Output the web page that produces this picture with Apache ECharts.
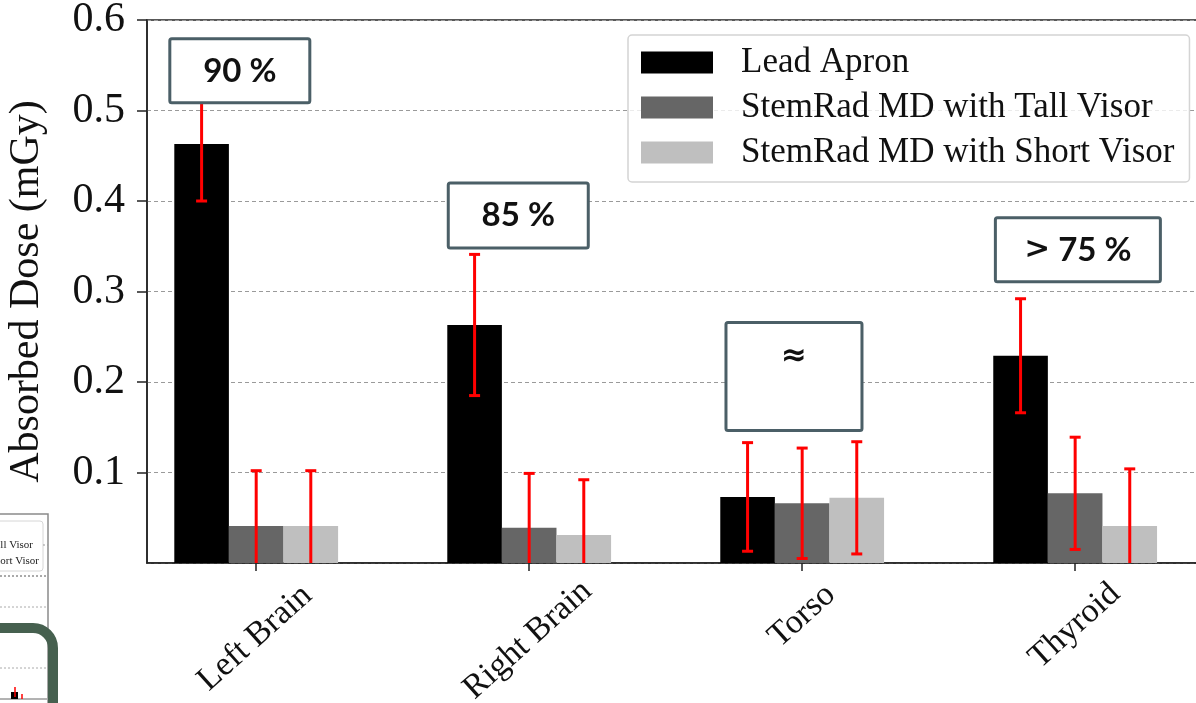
<!DOCTYPE html>
<html>
<head>
<meta charset="utf-8">
<script src="https://cdn.jsdelivr.net/npm/echarts@6/dist/echarts.min.js"></script>
<style>
  html, body { margin: 0; background: #fff; }
  #chart { width: 1196px; height: 703px; }
</style>
</head>
<body>
<div id="chart"></div>
<script>
// Absorbed dose per organ, three shielding setups, with ± error bars and note boxes.
const CATS = ['Left Brain', 'Right Brain', 'Torso', 'Thyroid']
const SERIES = ['Lead Apron', 'StemRad MD with Tall Visor', 'StemRad MD with Short Visor']
const LEAD = [0.463, 0.263, 0.073, 0.229]
const TALL = [0.041, 0.039, 0.066, 0.077]
const SHORT = [0.041, 0.031, 0.072, 0.041]
const LEAD_ERR = [0.063, 0.078, 0.060, 0.063]
const TALL_ERR = [0.061, 0.060, 0.061, 0.062]
const SHORT_ERR = [0.061, 0.061, 0.062, 0.063]
const NOTE_TEXT = ['90 %', '85 %', '{s|≈}', '{s|>} 75 %']
const NOTE_X = [-0.06, 0.96, 1.97, 3.01]
const NOTE_Y = [0.544, 0.384, 0.206, 0.346]
const Y_MIN = 0, Y_MAX = 0.6, Y_STEP = 0.1

const COLORS = ['#000000', '#666666', '#bfbfbf']
const SERIF = '"Liberation Serif", "Times New Roman", serif'
const X_MIN = -0.4, X_MAX = 3.45
const GRID = { left: 147, top: 20, right: -2, bottom: 140 }
const W = 1196
const pxPerUnit = (W - GRID.left - GRID.right) / (X_MAX - X_MIN)
const BAR_UNIT = 0.2
const barPx = BAR_UNIT * pxPerUnit
// note box sizes (px) and text offset from the box centre
const NOTE_BOX = [
  { w: 140, h: 64, ty: 1 }, { w: 140, h: 65, ty: 0 },
  { w: 136, h: 108, ty: -20 }, { w: 165, h: 64, ty: 0 }
]
// push short rotated labels down so their boxes all start at the same height
const LABEL_SHIFT = [22, 24, 0, 10]

const chart = echarts.init(document.getElementById('chart'))

const vals = [LEAD, TALL, SHORT]
const errs = [LEAD_ERR, TALL_ERR, SHORT_ERR]

function errRender(k) {
  return (params, api) => {
    const x = api.value(0), v = api.value(1), e = api.value(2)
    const top = api.coord([x, v + e])
    const bot = api.coord([x, Math.max(v - e, Y_MIN)])
    const cx = top[0] + (k - 1) * barPx
    const st = { stroke: '#ff0000', lineWidth: 3 }
    const kids = [
      { type: 'line', shape: { x1: cx, y1: top[1], x2: cx, y2: bot[1] }, style: st },
      { type: 'line', shape: { x1: cx - 5.5, y1: top[1], x2: cx + 5.5, y2: top[1] }, style: st }
    ]
    if (v - e >= Y_MIN) kids.push({ type: 'line', shape: { x1: cx - 5.5, y1: bot[1], x2: cx + 5.5, y2: bot[1] }, style: st })
    return { type: 'group', children: kids }
  }
}

function noteRender(params, api) {
  const i = api.value(2)
  const b = NOTE_BOX[i]
  const p = api.coord([api.value(0), api.value(1)])
  return {
    type: 'group', children: [
      { type: 'rect', shape: { x: p[0] - b.w / 2, y: p[1] - b.h / 2, width: b.w, height: b.h, r: 2 },
        style: { fill: '#fff', stroke: '#4b5f67', lineWidth: 3 } },
      { type: 'text', style: {
        text: NOTE_TEXT[i], x: p[0], y: p[1] + b.ty, align: 'center', verticalAlign: 'middle',
        font: 'bold 33px Lato, "Noto Sans", sans-serif', fill: '#111',
        rich: { s: { fontFamily: '"DejaVu Sans"', fontWeight: 'bold', fontSize: 31, fill: '#111' } }
      } }
    ]
  }
}

// padding moves the centred, rotated label straight down by d px
const ROT = 42
const rich = {}
LABEL_SHIFT.forEach((d, i) => {
  const p = d * Math.SQRT2
  rich['c' + i] = { fontFamily: SERIF, fontSize: 34, color: '#111', padding: [p, p, 0, 0] }
})

const series = []
SERIES.forEach((name, k) => {
  series.push({
    name, type: 'bar', barWidth: barPx, barGap: '0%', itemStyle: { color: COLORS[k] },
    data: CATS.map((c, i) => [i, vals[k][i]])
  })
})
SERIES.forEach((name, k) => {
  series.push({
    name: name + ' err', type: 'custom', z: 3, renderItem: errRender(k), encode: { x: 0, y: 1 },
    data: CATS.map((c, i) => [i, vals[k][i], errs[k][i]])
  })
})
series.push({
  name: 'notes', type: 'custom', z: 10, clip: false, renderItem: noteRender, encode: { x: 0, y: 1 },
  data: NOTE_TEXT.map((t, i) => [NOTE_X[i], NOTE_Y[i], i])
})

// scrap of a neighbouring figure in the lower-left corner
const scrap = [
  { type: 'rect', shape: { x: -10, y: 514, width: 58, height: 200 }, style: { fill: '#fff', stroke: '#8a8a8a', lineWidth: 1.5 } },
  { type: 'rect', shape: { x: -10, y: 521, width: 53, height: 50, r: 3 }, style: { fill: '#fff', stroke: '#d6d6d6', lineWidth: 1 } },
  { type: 'line', shape: { x1: 43, y1: 545, x2: 48, y2: 545 }, style: { stroke: '#999', lineDash: [2, 2] } },
  { type: 'text', style: { text: 'll Visor', x: 33, y: 545, align: 'right', verticalAlign: 'middle', font: '11px ' + SERIF, fill: '#222' } },
  { type: 'text', style: { text: 'hort Visor', x: 39, y: 561, align: 'right', verticalAlign: 'middle', font: '11px ' + SERIF, fill: '#222' } },
  { type: 'line', shape: { x1: 0, y1: 576, x2: 47, y2: 576 }, style: { stroke: '#555', lineDash: [2, 2] } },
  { type: 'line', shape: { x1: 0, y1: 607, x2: 47, y2: 607 }, style: { stroke: '#aaa', lineDash: [2, 2] } },
  { type: 'line', shape: { x1: 0, y1: 668, x2: 47, y2: 668 }, style: { stroke: '#aaa', lineDash: [2, 2] } },
  { type: 'line', shape: { x1: 0, y1: 699, x2: 47, y2: 699 }, style: { stroke: '#666', lineWidth: 1 } },
  { type: 'rect', shape: { x: 11, y: 692, width: 7, height: 7 }, style: { fill: '#000' } },
  { type: 'line', shape: { x1: 15, y1: 687, x2: 15, y2: 697 }, style: { stroke: '#f00', lineWidth: 1.5 } },
  { type: 'line', shape: { x1: 22, y1: 694, x2: 22, y2: 699 }, style: { stroke: '#f00', lineWidth: 1.5 } },
  { type: 'rect', shape: { x: -60, y: 628, width: 113, height: 200, r: 20 }, style: { fill: 'none', stroke: '#46604f', lineWidth: 10 } }
]

chart.setOption({
  animation: false,
  backgroundColor: '#fff',
  grid: Object.assign({ show: true, borderColor: '#222', borderWidth: 1.5, outerBoundsMode: 'none', containLabel: false }, GRID),
  legend: {
    data: SERIES, orient: 'vertical', left: 628, top: 35,
    icon: 'rect', itemWidth: 72, itemHeight: 22, itemGap: 10,
    padding: [10, 15, 12, 13],
    backgroundColor: 'rgba(255,255,255,0.8)', borderColor: '#d4d4d4', borderWidth: 1.5, borderRadius: 4,
    textStyle: { fontFamily: SERIF, fontSize: 35, color: '#111', lineHeight: 35, padding: [0, 0, 0, 23] }
  },
  xAxis: {
    type: 'value', min: X_MIN, max: X_MAX,
    splitLine: { show: false },
    axisLine: { onZero: false, lineStyle: { color: '#222', width: 1.5 } },
    axisTick: { customValues: [0, 1, 2, 3], length: 8, lineStyle: { color: '#222', width: 1.5 } },
    axisLabel: {
      customValues: [0, 1, 2, 3], rotate: ROT, align: 'center', verticalAlign: 'middle', margin: 53,
      fontFamily: SERIF, fontSize: 34, color: '#111',
      formatter: v => `{c${v}|${CATS[v]}}`, rich
    }
  },
  yAxis: {
    type: 'value', min: Y_MIN, max: Y_MAX, interval: Y_STEP,
    name: 'Absorbed Dose (mGy)', nameLocation: 'middle', nameGap: 99,
    nameTextStyle: { fontFamily: SERIF, fontSize: 42, color: '#111' },
    axisLine: { show: true, onZero: false, lineStyle: { color: '#222', width: 1.5 } },
    axisTick: { show: true, length: 10, lineStyle: { color: '#222', width: 1.5 } },
    axisLabel: { showMinLabel: false, margin: 22, fontFamily: SERIF, fontSize: 42, color: '#111', formatter: v => v.toFixed(1) },
    splitLine: { lineStyle: { color: '#9a9a9a', type: [4, 3], width: 1 } }
  },
  series,
  graphic: scrap
})
</script>
</body>
</html>
